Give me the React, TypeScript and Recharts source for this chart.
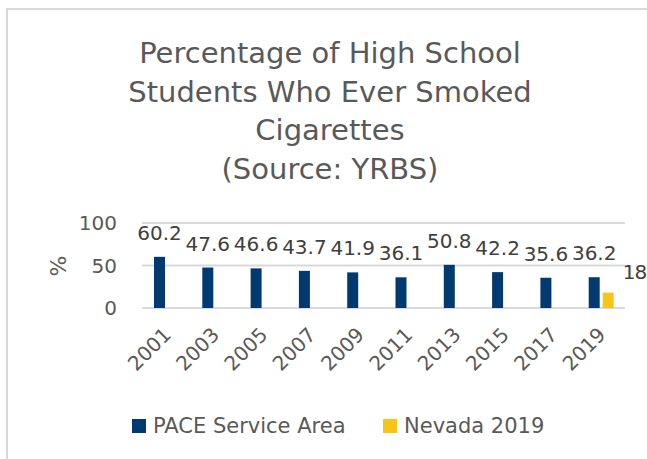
import React from 'react';
import { BarChart, Bar, XAxis, YAxis, CartesianGrid, LabelList } from 'recharts';

const years = ['2001', '2003', '2005', '2007', '2009', '2011', '2013', '2015', '2017', '2019'];
const paceValues = [60.2, 47.6, 46.6, 43.7, 41.9, 36.1, 50.8, 42.2, 35.6, 36.2];
const nevadaValues: (number | null)[] = [null, null, null, null, null, null, null, null, null, 18];
const yTicks = [0, 50, 100];
const titleLines = ['Percentage of High School', 'Students Who Ever Smoked', 'Cigarettes', '(Source: YRBS)'];
const seriesNames = ['PACE Service Area', 'Nevada 2019'];

const NAVY = '#003A70';
const GOLD = '#F5C518';
const FONT = '"DejaVu Sans", sans-serif';

const data = years.map((y, i) => ({ year: y, pace: paceValues[i], nevada: nevadaValues[i] }));

const NevadaLabel = (props: any) => {
  const { x, y, width, value } = props;
  if (value == null) return null;
  return (
    <text x={x + width + 9} y={y - 14} fill="#404040" fontSize={20} letterSpacing={-1} fontFamily={FONT} textAnchor="start">
      {value}
    </text>
  );
};

const PercentLabel = () => (
  <text x={58} y={266} transform="rotate(-90 58 266)" textAnchor="middle" dominantBaseline="central" fill="#595959" fontSize={22} fontFamily={FONT}>
    %
  </text>
);

export default function App() {
  return (
    <div style={{ position: 'absolute', left: 0, top: 0, width: 647, height: 459, background: '#fff', overflow: 'hidden', fontFamily: FONT }}>
      <div style={{ position: 'absolute', left: 6, top: 8, width: 700, height: 500, borderLeft: '2px solid #d9d9d9', borderTop: '2px solid #d9d9d9' }} />
      <div style={{ position: 'absolute', left: 80, width: 500, top: 34, textAlign: 'center', color: '#595959', fontSize: 29, lineHeight: '38.5px' }}>
        {titleLines.map((t) => (
          <div key={t}>{t}</div>
        ))}
      </div>
      <div style={{ position: 'absolute', left: 0, top: 0 }}>
        <BarChart width={647} height={459} data={data} margin={{ top: 223, right: 22, left: 0, bottom: 81 }} barGap={3} style={{ overflow: 'visible' }}>
          <CartesianGrid vertical={false} stroke="#d9d9d9" strokeWidth={2} />
          <XAxis
            dataKey="year"
            axisLine={false}
            tickLine={false}
            interval={0}
            height={70}
            angle={-45}
            textAnchor="end"
            tickMargin={12}
            dx={-4}
            tick={{ fill: '#595959', fontSize: 20, fontFamily: FONT }}
          />
          <YAxis
            width={142}
            domain={[0, 100]}
            ticks={yTicks}
            axisLine={false}
            tickLine={false}
            tickMargin={19}
            tick={{ fill: '#595959', fontSize: 20, fontFamily: FONT }}
            label={{ content: () => <PercentLabel /> }}
          />
          <Bar dataKey="pace" name={seriesNames[0]} fill={NAVY} barSize={11} isAnimationActive={false}>
            <LabelList dataKey="pace" position="top" offset={17} fill="#404040" fontSize={20} fontFamily={FONT} />
          </Bar>
          <Bar dataKey="nevada" name={seriesNames[1]} fill={GOLD} barSize={11} isAnimationActive={false}>
            <LabelList dataKey="nevada" content={<NevadaLabel />} />
          </Bar>
        </BarChart>
      </div>
      <div style={{ position: 'absolute', top: 413, left: 0, height: 26, width: 647, color: '#595959', fontSize: 21 }}>
        <span style={{ position: 'absolute', left: 132, top: 6, width: 14, height: 14, background: NAVY }} />
        <span style={{ position: 'absolute', left: 153, top: 0, lineHeight: '26px', whiteSpace: 'nowrap' }}>{seriesNames[0]}</span>
        <span style={{ position: 'absolute', left: 383, top: 6, width: 14, height: 14, background: GOLD }} />
        <span style={{ position: 'absolute', left: 404, top: 0, lineHeight: '26px', whiteSpace: 'nowrap' }}>{seriesNames[1]}</span>
      </div>
    </div>
  );
}
